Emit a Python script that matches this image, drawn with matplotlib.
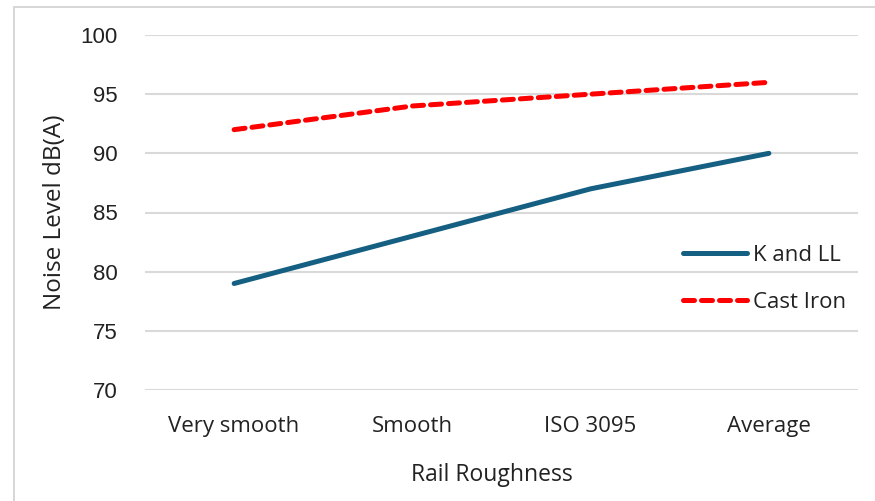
import matplotlib.pyplot as plt

# Noise level vs rail roughness for two brake block types
categories = ['Very smooth', 'Smooth', 'ISO 3095', 'Average']
k_and_ll = [79, 83, 87, 90]
cast_iron = [92, 94, 95, 96]
y_ticks = [70, 75, 80, 85, 90, 95, 100]

plt.rcParams['font.family'] = ['Open Sans', 'DejaVu Sans']

fig = plt.figure(figsize=(8.75, 5.01), dpi=100)
ax = fig.add_axes([145 / 875, 1 - 390 / 501, (858 - 145) / 875, (390 - 35) / 501])

x = range(len(categories))
ax.plot(x, k_and_ll, color='#156082', lw=3.6, solid_capstyle='round',
        label='K and LL', zorder=3)
ax.plot(x, cast_iron, color='#ff0000', lw=3.6, ls=(0, (2.2, 1.4)),
        dash_capstyle='round', label='Cast Iron', zorder=3)

ax.set_xlim(-0.5, len(categories) - 0.5)
ax.set_ylim(70, 100)
ax.set_yticks(y_ticks)
ax.set_xticks(list(x))
ax.set_xticklabels(categories)
ax.tick_params(axis='both', length=0, labelsize=16, colors='#222222')
ax.tick_params(axis='x', pad=19)
ax.tick_params(axis='y', pad=19.5)
for lbl in ax.get_yticklabels():
    lbl.set_family(['Liberation Sans', 'DejaVu Sans'])
    lbl.set_fontsize(16)

ax.grid(axis='y', color='#d9d9d9', lw=1.5)
ax.set_axisbelow(True)
for s in ax.spines.values():
    s.set_visible(False)

ax.set_xlabel('Rail Roughness', fontsize=16.5, color='#222222', labelpad=17)
ax.xaxis.set_label_coords(0.487, -0.205)
ax.set_ylabel('Noise Level dB(A)', fontsize=17.5, color='#222222', labelpad=10)

leg = ax.legend(loc='center left', bbox_to_anchor=(0.7425, 0.314), frameon=False,
                fontsize=16, handlelength=2.85, handletextpad=0.3,
                labelspacing=1.17, borderaxespad=0)
for t in leg.get_texts():
    t.set_color('#222222')

# light frame round the chart area
fig.patches.append(plt.Rectangle((14 / 875, -0.1), 1.2, 1 - 7 / 501 + 0.1,
                                 transform=fig.transFigure, fill=False,
                                 edgecolor='#d0d0d0', lw=1.2))

fig.savefig('out.png', dpi=100)
